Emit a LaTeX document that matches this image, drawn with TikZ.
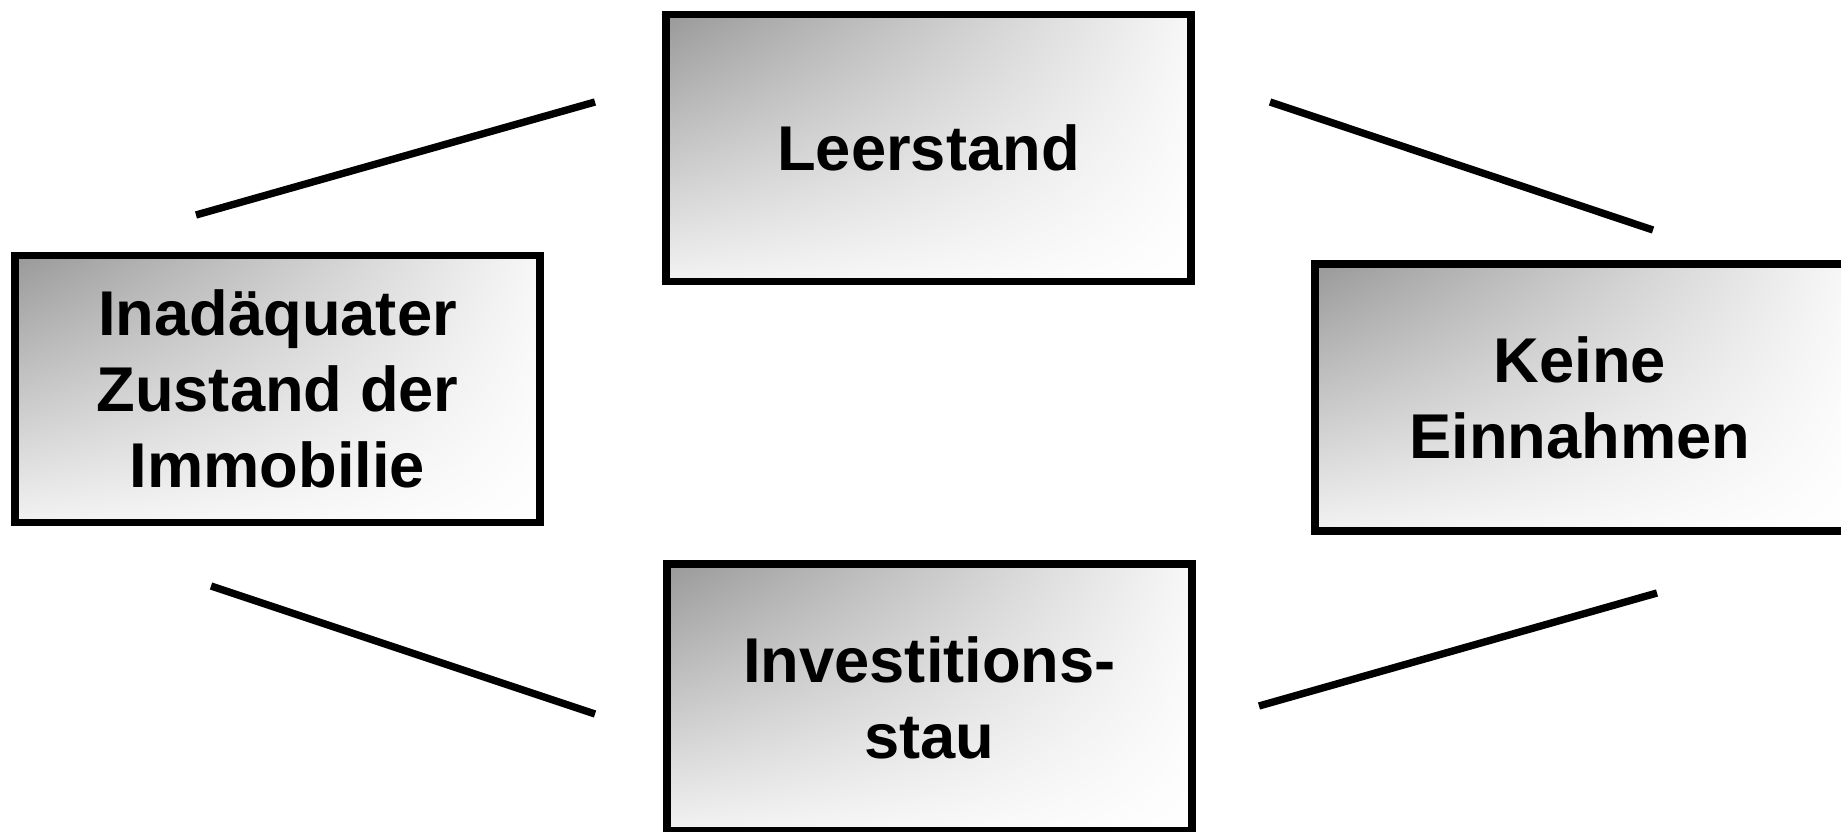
\documentclass[tikz,border=0pt]{standalone}
\usepackage{fontspec}
\setmainfont{Liberation Sans}
\usepackage{xcolor}
\usetikzlibrary{shadings}

\begin{document}
\begin{tikzpicture}[
	box/.style={draw=black, line width=2pt, shade,
		upper left=black!40, upper right=black!3,
		lower left=black!5, lower right=white,
		minimum width=5.25cm, minimum height=2.67cm, inner sep=0pt,
		align=center, font=\bfseries\fontsize{18}{21.6}\selectfont},
	link/.style={black, line width=2.1pt}]
	\useasboundingbox (0,0) rectangle (18.41,8.31);
	\clip (0,0) rectangle (18.41,8.31);
	% the four boxes
	\node [box] (lee) at (9.285,6.83) {Leerstand};
	\node [box] (inad) at (2.775,4.42) {Inadäquater\\Zustand der\\Immobilie};
	\node [box, minimum width=5.3cm] (kein) at (15.8,4.335) {Keine\\Einnahmen};
	\node [box] (inv) at (9.295,1.335) {Investitions-\\stau};
	% free line ends
	\coordinate (a1) at (1.96,6.16);
	\coordinate (a2) at (5.95,7.29);
	\coordinate (b1) at (12.70,7.29);
	\coordinate (b2) at (16.53,6.01);
	\coordinate (c1) at (2.11,2.45);
	\coordinate (c2) at (5.95,1.17);
	\coordinate (d1) at (12.59,1.25);
	\coordinate (d2) at (16.57,2.38);
	\draw [link] (a1) -- (a2);
	\draw [link] (b1) -- (b2);
	\draw [link] (c1) -- (c2);
	\draw [link] (d1) -- (d2);
\end{tikzpicture}
\end{document}
